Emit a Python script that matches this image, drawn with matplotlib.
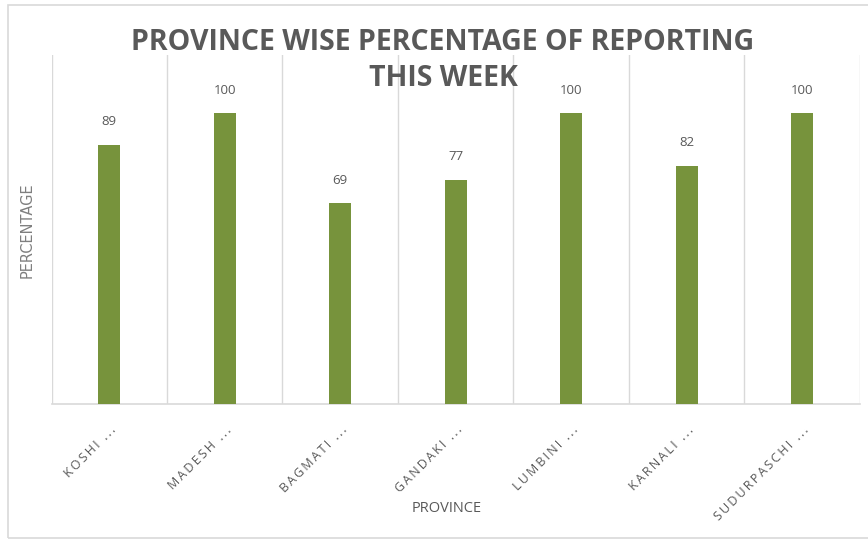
import matplotlib.pyplot as plt
from matplotlib.patches import Rectangle

# chart data
provinces = ["KOSHI ...", "MADESH ...", "BAGMATI ...", "GANDAKI ...",
             "LUMBINI ...", "KARNALI ...", "SUDURPASCHI ..."]
reporting_pct = [89, 100, 69, 77, 100, 82, 100]

title_lines = ["PROVINCE WISE PERCENTAGE OF REPORTING", "THIS WEEK"]

BAR_COLOR = "#77933C"
TEXT_GREY = "#595959"
GRID_GREY = "#d9d9d9"


def spaced(s, gap="\u2009"):
    # crude letter spacing, Excel style
    return gap.join(s)


fig = plt.figure(figsize=(8.68, 5.41), dpi=100)
fig.patches.append(Rectangle((8 / 868, 0.005), 1.0, 1 - 5 / 541 - 0.005,
                             transform=fig.transFigure, fill=False,
                             edgecolor="#d9d9d9", linewidth=1.2))

ax = fig.add_axes([51.5 / 868, 1 - 404 / 541, (860 - 51.5) / 868, (404 - 55) / 541])

x = range(len(provinces))
bars = ax.bar(x, reporting_pct, width=0.19, color=BAR_COLOR, zorder=3)

for xi, v in zip(x, reporting_pct):
    ax.annotate(str(v), (xi, v), xytext=(0, 12), textcoords="offset points",
                ha="center", va="bottom", fontsize=9.5, color=TEXT_GREY,
                family="Open Sans")

ax.set_xlim(-0.5, len(provinces) - 0.5)
ax.set_ylim(0, 120)

# vertical gridlines between categories
ax.set_xticks([i - 0.5 for i in range(len(provinces) + 1)], minor=True)
ax.grid(True, which="minor", axis="x", color=GRID_GREY, linewidth=1, zorder=0)
ax.tick_params(which="both", length=0)

ax.set_xticks(list(x))
ax.set_xticklabels([spaced(p) for p in provinces],
                   rotation=45, ha="right", rotation_mode="anchor",
                   fontsize=9, color=TEXT_GREY, family="Open Sans")
ax.tick_params(axis="x", pad=14)
ax.set_yticks([])

for side in ["top", "right", "left"]:
    ax.spines[side].set_visible(False)
ax.spines["bottom"].set_color(GRID_GREY)
ax.spines["bottom"].set_linewidth(1.2)

# title
for line, ypx in zip(title_lines, [42, 78]):
    fig.text(443 / 868, 1 - ypx / 541, line, ha="center", va="center",
             fontsize=20.5, fontweight="bold", color=TEXT_GREY,
             family="Open Sans")

fig.text(447 / 868, 1 - 509 / 541, "PROVINCE", ha="center", va="center",
         fontsize=10.5, color=TEXT_GREY, family="Open Sans")
fig.text(27 / 868, 1 - 230 / 541, "PERCENTAGE", ha="center", va="center",
         rotation=90, fontsize=10.5, color="#7f7f7f", family="DejaVu Sans")

fig.savefig("out.png", dpi=100)
